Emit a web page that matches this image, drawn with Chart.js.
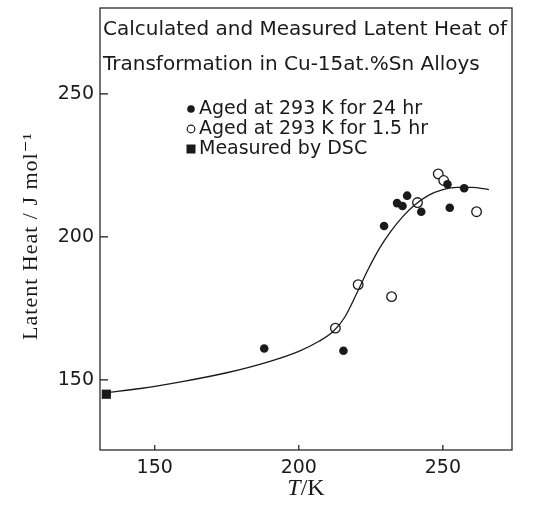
<!DOCTYPE html>
<html lang="en">
<head>
<meta charset="UTF-8">
<title>Latent Heat of Transformation</title>
<script src="https://cdn.jsdelivr.net/npm/chart.js@4"></script>
<style>
  html, body { margin: 0; padding: 0; background: #fff; }
  #wrap { width: 539px; height: 510px; }
</style>
</head>
<body>
<div id="wrap"><canvas id="chart" width="539" height="510"></canvas></div>
<script>
// data
const tickValues = [150, 200, 250];

// calculated curve
const curveT = [133, 145, 160, 175, 190, 200, 207, 212, 216, 220, 224, 228, 232, 236, 240, 245, 250, 255, 260, 266];
const curveH = [145.5, 147, 149.5, 152.5, 156.5, 160, 163.5, 167, 172, 180, 188.5, 196, 202, 207, 211, 214.5, 216.5, 217.3, 217.3, 216.5];

// aged at 293 K for 24 hr (filled circles)
const aged24T = [188.0, 215.5, 229.6, 234.1, 236.0, 237.6, 242.5, 251.6, 252.4, 257.4];
const aged24H = [161.0, 160.2, 203.8, 211.8, 210.8, 214.4, 208.8, 218.4, 210.2, 217.0];

// aged at 293 K for 1.5 hr (open circles)
const aged15T = [212.7, 220.6, 232.2, 241.2, 248.4, 250.3, 261.7];
const aged15H = [168.1, 183.3, 179.1, 212.0, 222.0, 219.7, 208.8];

// measured by DSC (filled square)
const dscT = [133.2];
const dscH = [145.0];

const titleLines = ['Calculated and Measured Latent Heat of', 'Transformation in Cu-15at.%Sn Alloys'];
const legendLabels = ['Aged at 293 K for 24 hr', 'Aged at 293 K for 1.5 hr', 'Measured by DSC'];

const pts = (xs, ys) => xs.map((x, i) => ({ x: x, y: ys[i] }));
const SANS = '"DejaVu Sans", sans-serif';
const SERIF = '"Liberation Serif", "DejaVu Serif", serif';
const INK = '#1a1a1a';

// frame, inward ticks, text box and axis titles
const decorations = {
  id: 'decorations',
  afterDraw(chart) {
    const ctx = chart.ctx;
    const a = chart.chartArea;
    const xs = chart.scales.x, ys = chart.scales.y;
    ctx.save();
    ctx.strokeStyle = INK;
    ctx.lineWidth = 1.2;
    ctx.strokeRect(a.left, a.top, a.right - a.left, a.bottom - a.top);

    ctx.beginPath();
    tickValues.forEach(v => {
      const py = ys.getPixelForValue(v);
      ctx.moveTo(a.left, py); ctx.lineTo(a.left + 8, py);
      const px = xs.getPixelForValue(v);
      ctx.moveTo(px, a.bottom); ctx.lineTo(px, a.bottom - 5);
    });
    ctx.stroke();

    // title inside the box
    ctx.fillStyle = INK;
    ctx.textBaseline = 'middle';
    ctx.textAlign = 'left';
    ctx.font = '20px ' + SANS;
    ctx.fillText(titleLines[0], a.left + 3, a.top + 22);
    ctx.fillText(titleLines[1], a.left + 3, a.top + 57);

    // legend
    const lx = 191, ly = [109, 129, 149];
    ctx.font = '19px ' + SANS;
    legendLabels.forEach((t, i) => ctx.fillText(t, lx + 8, ly[i]));
    ctx.beginPath(); ctx.arc(lx, ly[0], 3.8, 0, Math.PI * 2); ctx.fill();
    ctx.beginPath(); ctx.arc(lx, ly[1], 3.8, 0, Math.PI * 2);
    ctx.lineWidth = 1.2; ctx.stroke();
    ctx.fillRect(lx - 4.5, ly[2] - 4.5, 9, 9);

    // axis titles
    ctx.font = '22px ' + SERIF;
    ctx.save();
    ctx.letterSpacing = '1px';
    ctx.translate(31, 236);
    ctx.rotate(-Math.PI / 2);
    ctx.textAlign = 'center';
    ctx.fillText('Latent Heat / J mol\u207B\u00B9', 0, 0);
    ctx.restore();

    ctx.textAlign = 'left';
    const cx = (a.left + a.right) / 2;
    ctx.font = 'italic 24px ' + SERIF;
    const wT = ctx.measureText('T').width;
    ctx.font = '24px ' + SERIF;
    const wR = ctx.measureText('/K').width;
    const x0 = cx - (wT + wR) / 2;
    ctx.font = 'italic 24px ' + SERIF;
    ctx.fillText('T', x0, 489);
    ctx.font = '24px ' + SERIF;
    ctx.fillText('/K', x0 + wT, 489);
    ctx.restore();
  }
};

new Chart(document.getElementById('chart'), {
  type: 'scatter',
  data: {
    datasets: [
      {
        type: 'line',
        label: 'Calculated',
        data: pts(curveT, curveH),
        borderColor: INK,
        borderWidth: 1.3,
        pointRadius: 0,
        cubicInterpolationMode: 'monotone',
        fill: false
      },
      {
        label: legendLabels[0],
        data: pts(aged24T, aged24H),
        pointRadius: 4.3,
        backgroundColor: INK,
        borderColor: INK,
        borderWidth: 0
      },
      {
        label: legendLabels[1],
        data: pts(aged15T, aged15H),
        pointRadius: 4.8,
        backgroundColor: '#fff',
        borderColor: INK,
        borderWidth: 1.3
      },
      {
        label: legendLabels[2],
        data: pts(dscT, dscH),
        pointStyle: 'rect',
        pointRadius: 6.5,
        backgroundColor: INK,
        borderColor: INK,
        borderWidth: 0
      }
    ]
  },
  options: {
    responsive: false,
    animation: false,
    layout: { padding: { left: 0, right: 27, top: 8, bottom: 0 } },
    plugins: { legend: { display: false }, tooltip: { enabled: false } },
    scales: {
      x: {
        type: 'linear',
        min: 131,
        max: 274,
        afterBuildTicks: s => { s.ticks = tickValues.map(v => ({ value: v })); },
        afterFit: s => { s.height = 60; s.paddingLeft = 0; s.paddingRight = 0; },
        grid: { display: false, drawTicks: false },
        border: { display: false },
        ticks: { color: INK, padding: 7, font: { family: SANS, size: 19 } }
      },
      y: {
        type: 'linear',
        min: 125.5,
        max: 280,
        afterBuildTicks: s => { s.ticks = tickValues.map(v => ({ value: v })); },
        afterFit: s => { s.width = 100; s.paddingTop = 0; s.paddingBottom = 0; },
        grid: { display: false, drawTicks: false },
        border: { display: false },
        ticks: { color: INK, padding: 6, font: { family: SANS, size: 19 } }
      }
    }
  },
  plugins: [decorations]
});
</script>
</body>
</html>
